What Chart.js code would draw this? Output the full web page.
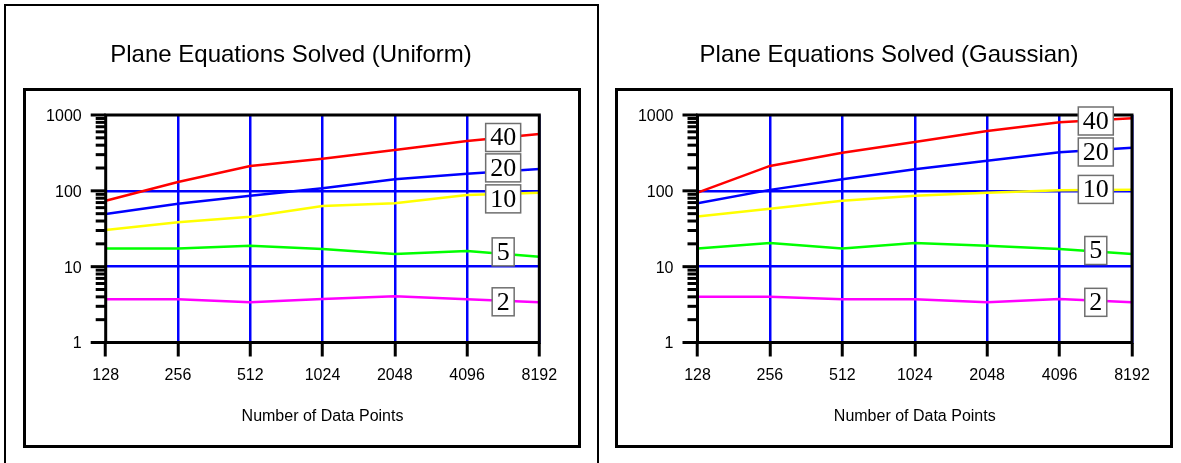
<!DOCTYPE html>
<html>
<head>
<meta charset="utf-8">
<title>Plane Equations Solved</title>
<script src="https://cdn.jsdelivr.net/npm/chart.js@4/dist/chart.umd.min.js"></script>
<style>
  html, body { margin: 0; padding: 0; background: #fff; }
  body { position: relative; width: 1181px; height: 463px; overflow: hidden; }
  .frame { position: absolute; box-sizing: border-box; pointer-events: none; }
  #panelEdge { left: 4px; top: 4px; width: 594.5px; height: 470px;
               border-left: 2px solid #000; border-top: 2px solid #000; border-right: 2px solid #000; }
  #boxUniform  { left: 23px;    top: 87.8px; width: 557.8px; height: 360.4px; border: 3px solid #000; }
  #boxGaussian { left: 615.2px; top: 87.8px; width: 558.3px; height: 360.4px; border: 3px solid #000; }
  canvas { position: absolute; top: 0; }
  #chartUniform  { left: 0; }
  #chartGaussian { left: 598px; }
</style>
</head>
<body>
<div class="frame" id="panelEdge"></div>
<div class="frame" id="boxUniform"></div>
<div class="frame" id="boxGaussian"></div>
<canvas id="chartUniform" width="598" height="463"></canvas>
<canvas id="chartGaussian" width="583" height="463"></canvas>
<script>
// x categories: number of data points
const pointCounts = ['128', '256', '512', '1024', '2048', '4096', '8192'];
// series names (shown in the boxed tags at the right end of each line)
const seriesNames = ['40', '20', '10', '5', '2'];
// labelled decades on the log axis
const yMajorTicks = [1, 10, 100, 1000];

// Uniform distribution
const uniform40 = [74, 131, 213, 265, 346, 454, 562];
const uniform20 = [49.5, 67.7, 86.3, 108, 142, 168, 194];
const uniform10 = [30.5, 38.5, 45.6, 63, 68.5, 88, 94.5];
const uniform5  = [17.3, 17.3, 18.9, 17.1, 14.7, 16.1, 13.5];
const uniform2  = [3.71, 3.71, 3.39, 3.75, 4.07, 3.71, 3.39];

// Gaussian distribution
const gaussian40 = [94.5, 213, 318, 441, 615, 801, 905];
const gaussian20 = [68.5, 103, 142, 192, 250, 322, 371];
const gaussian10 = [46, 58, 74, 86, 94.5, 102, 103];
const gaussian5  = [17.3, 20.5, 17.3, 20.5, 18.9, 17.1, 14.7];
const gaussian2  = [4.02, 4.02, 3.71, 3.71, 3.39, 3.75, 3.39];

const seriesColors = ['#ff0000', '#0000ff', '#ffff00', '#00ff00', '#ff00ff'];
const SANS = '"Liberation Sans", Arial, Helvetica, sans-serif';
const SERIF = '"Liberation Serif", "Times New Roman", Times, serif';

// every tick mark on the log axis: 1..9 in each decade, plus the top
const yTickValues = [];
for (const decade of [1, 10, 100]) {
  for (let m = 1; m <= 9; m++) yTickValues.push(m * decade);
}
yTickValues.push(1000);

// panel heading, centred on a fixed x inside the canvas
const panelTitle = {
  id: 'panelTitle',
  afterDraw(chart, args, opts) {
    const { ctx } = chart;
    ctx.save();
    ctx.font = opts.size + 'px ' + SANS;
    ctx.fillStyle = '#000';
    ctx.textAlign = 'center';
    ctx.textBaseline = 'alphabetic';
    ctx.fillText(opts.text, opts.centerX, opts.baseline);
    ctx.restore();
  }
};

// black frame round the plot area plus long/short tick marks on the log axis
const plotFrame = {
  id: 'plotFrame',
  afterDatasetsDraw(chart) {
    const { ctx, chartArea: a, scales: { y } } = chart;
    ctx.save();
    ctx.strokeStyle = '#000';
    ctx.lineWidth = 3;
    ctx.strokeRect(a.left, a.top, a.right - a.left, a.bottom - a.top);
    y.ticks.forEach(t => {
      const py = y.getPixelForValue(t.value);
      const len = yMajorTicks.includes(t.value) ? 15 : 10;
      ctx.beginPath();
      ctx.moveTo(a.left - len, py);
      ctx.lineTo(a.left, py);
      ctx.stroke();
    });
    ctx.restore();
  }
};

// boxed series name sitting on each line between the last two points
const seriesTags = {
  id: 'seriesTags',
  afterDatasetsDraw(chart, args, opts) {
    const { ctx, scales: { x, y } } = chart;
    const n = chart.data.labels.length;
    const px = (x.getPixelForValue(n - 2) + x.getPixelForValue(n - 1)) / 2;
    const nudge = opts.nudge || [];
    ctx.save();
    ctx.font = '26px ' + SERIF;
    ctx.textAlign = 'center';
    ctx.textBaseline = 'middle';
    chart.data.datasets.forEach((ds, i) => {
      const d = ds.data;
      const py = (y.getPixelForValue(d[n - 2]) + y.getPixelForValue(d[n - 1])) / 2 + (nudge[i] || 0);
      const w = ctx.measureText(ds.label).width + 9;
      const h = 28;
      ctx.fillStyle = '#fff';
      ctx.fillRect(px - w / 2, py - h / 2, w, h);
      ctx.strokeStyle = '#6f6f6f';
      ctx.lineWidth = 1.5;
      ctx.strokeRect(px - w / 2, py - h / 2, w, h);
      ctx.fillStyle = '#000';
      ctx.fillText(ds.label, px, py + 1);
    });
    ctx.restore();
  }
};

function makeChart(id, titleText, series, box, nudge) {
  return new Chart(document.getElementById(id), {
    type: 'line',
    data: {
      labels: pointCounts,
      datasets: series.map((vals, i) => ({
        label: seriesNames[i],
        data: vals,
        borderColor: seriesColors[i],
        backgroundColor: seriesColors[i],
        borderWidth: 2.5,
        pointRadius: 0,
        tension: 0,
        fill: false
      }))
    },
    options: {
      responsive: false,
      animation: false,
      devicePixelRatio: 1,
      layout: { padding: { left: box.padLeft, right: box.padRight, top: 115, bottom: 0 } },
      plugins: {
        legend: { display: false },
        tooltip: { enabled: false },
        title: { display: false },
        panelTitle: { text: titleText, size: 24, centerX: 291, baseline: 62 },
        seriesTags: { nudge }
      },
      scales: {
        x: {
          type: 'category',
          offset: false,
          border: { display: false },
          grid: {
            color: c => (c.index === 0 ? 'rgba(0,0,0,0)' : '#0000ff'),
            lineWidth: 2.5,
            drawTicks: true,
            tickLength: 14,
            tickColor: '#000',
            tickWidth: 3
          },
          ticks: {
            color: '#000',
            font: { family: SANS, size: 16 },
            padding: 9,
            maxRotation: 0,
            autoSkip: false
          },
          title: {
            display: true,
            text: 'Number of Data Points',
            color: '#000',
            font: { family: SANS, size: 16, lineHeight: 1.2 },
            padding: { top: 0, bottom: 36.4 }
          },
          afterFit: s => { s.height = 120.5; }
        },
        y: {
          type: 'logarithmic',
          min: 1,
          max: 1000,
          border: { display: false },
          grid: {
            color: c => (c.tick && (c.tick.value === 10 || c.tick.value === 100) ? '#0000ff' : 'rgba(0,0,0,0)'),
            lineWidth: 2.5,
            drawTicks: false
          },
          ticks: {
            color: '#000',
            font: { family: SANS, size: 16 },
            padding: 24,
            labelOffset: 1.5,
            autoSkip: false,
            callback: v => (yMajorTicks.includes(v) ? String(v) : '')
          },
          afterBuildTicks: s => { s.ticks = yTickValues.map(v => ({ value: v })); },
          afterFit: s => { s.width = box.axisWidth; }
        }
      }
    },
    plugins: [plotFrame, seriesTags, panelTitle]
  });
}

makeChart('chartUniform', 'Plane Equations Solved (Uniform)',
  [uniform40, uniform20, uniform10, uniform5, uniform2],
  { padLeft: 42.7, padRight: 58.7, axisWidth: 63 },
  [0, -3.5, 5, -2, 1]);

makeChart('chartGaussian', 'Plane Equations Solved (Gaussian)',
  [gaussian40, gaussian20, gaussian10, gaussian5, gaussian2],
  { padLeft: 36.5, padRight: 49, axisWidth: 63 },
  [0.7, 2, -0.6, -1, 1.7]);
</script>
</body>
</html>
